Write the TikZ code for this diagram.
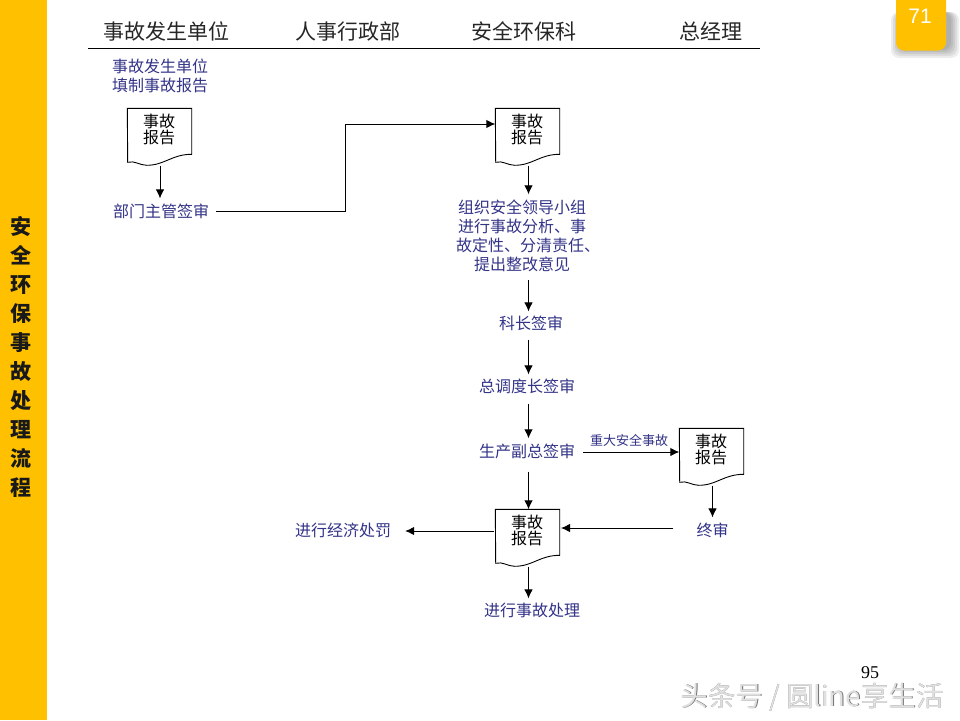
\documentclass[tikz,border=0pt]{standalone}
\usepackage{fontspec}
\setmainfont{Noto Sans CJK SC}
\newfontfamily\latinserif{Liberation Serif}
\newfontfamily\latinsans{Liberation Sans}
\usetikzlibrary{arrows.meta}
\definecolor{flowblue}{HTML}{333388}
\definecolor{tabyellow}{HTML}{FFC000}
\tikzset{
  headtxt/.style={font=\fontsize{21}{24}\selectfont, text=black!85, inner sep=0pt},
  flowtxt/.style={font=\fontsize{16}{19}\selectfont, text=flowblue, align=center, inner xsep=7pt, inner ysep=5pt},
  doctxt/.style={font=\fontsize{16}{16}\selectfont, text=black, align=center, inner sep=0pt, anchor=north},
  docbox/.style={minimum width=64pt, minimum height=57pt, inner sep=0pt, anchor=north west},
  docline/.style={draw=black, line width=0.9pt, line join=miter},
  conn/.style={draw=black, line width=0.9pt, -{Latex[length=9pt,width=8.5pt]}},
}
\newcommand{\docshape}[3]{%
  \node[docbox] (#1) at (#2,#3) {};
  \draw[docline] (#1.north west) -- (#1.north east) -- ++(0,46)
    .. controls +(-20,0) and +(18,0) .. ++(-45,11)
    .. controls +(-7,0) and +(7,-2) .. ++(-19,-3) -- cycle;
  \node[doctxt] at ([xshift=-0.5pt,yshift=-6pt]#1.north) {事故\\报告};
}
\begin{document}
\begin{tikzpicture}[x=1pt,y=-1pt]
\useasboundingbox (0,0) rectangle (960,720);
\fill[white] (0,0) rectangle (960,720);
% sidebar
\fill[tabyellow] (0,0) rectangle (47,720);
\node[font=\fontsize{21}{29.1}\selectfont\bfseries, align=center, inner sep=0pt, text=black!90] (side) at (20.5,357)
  {安\\全\\环\\保\\事\\故\\处\\理\\流\\程};
% page tab
\foreach \o/\w in {0.07/9,0.07/7,0.07/5,0.07/3,0.07/1}{
  \fill[black,opacity=\o,rounded corners=8pt] (900-\w,12) rectangle (950+\w,49+\w);
}
\fill[tabyellow,rounded corners=8pt] (896,-12) rectangle (946,50.5);
\node[font=\latinsans\fontsize{21}{24}\selectfont, text=white, inner sep=0pt] (tab) at (920,16.5) {71};
% header
\node[headtxt] (h1) at (166.5,31) {事故发生单位};
\node[headtxt] (h2) at (347.5,31.5) {人事行政部};
\node[headtxt] (h3) at (524,31) {安全环保科};
\node[headtxt] (h4) at (711,31) {总经理};
\coordinate (hl) at (88,48);
\coordinate (hr) at (760,48);
\draw[line width=1pt] (hl) -- (hr);
% documents
\docshape{d1}{127.3}{108.3}
\docshape{d2}{495.3}{108.3}
\docshape{d3}{679.3}{428.3}
\docshape{d4}{495.3}{509.3}
% texts
\node[flowtxt] (t0) at (160,76) {事故发生单位\\填制事故报告};
\node[flowtxt] (a) at (161,211) {部门主管签审};
\node[flowtxt] (org) at (522,235.5) {组织安全领导小组\\进行事故分析、事\\\hspace*{12pt}故定性、分清责任、\\提出整改意见};
\node[flowtxt] (ke) at (531,323) {科长签审};
\node[flowtxt] (zd) at (527,386) {总调度长签审};
\node[flowtxt] (sc) at (527,451) {生产副总签审};
\node[flowtxt] (zs) at (712.5,530) {终审};
\node[flowtxt] (jj) at (343,530) {进行经济处罚};
\node[flowtxt] (sg) at (532,610) {进行事故处理};
\node[font=\fontsize{13}{15}\selectfont, text=flowblue, inner sep=0pt] (zd2) at (629,441) {重大安全事故};
% connectors
\coordinate (j1) at (345,124);
\coordinate (d2in) at (495.3,124);
\coordinate (c1) at (528.5,280);
\coordinate (d3in) at (679.3,452);
\coordinate (d4a) at (561,528);
\coordinate (d4b) at (494,531);
\path[conn] ([xshift=0.5pt]d1.south) -- ([xshift=0.5pt]d1.south |- a.north);
\path[conn,-] (a.east) -| (j1);
\path[conn] (j1) -- (d2in);
\path[conn] (d2.south -| c1) -- (c1 |- org.north);
\path[conn] (c1) -- ([yshift=-1pt]c1 |- ke.north);
\path[conn] ([yshift=-4pt]c1 |- ke.south) -- ([yshift=-1pt]c1 |- zd.north);
\path[conn] ([yshift=-5pt]c1 |- zd.south) -- (c1 |- sc.north);
\path[conn] ([yshift=-8pt]c1 |- sc.south) -- (d4.north -| c1);
\path[conn] ([xshift=1pt]sc.east |- d3in) -- (d3in);
\path[conn] (d3.south -| zs) -- (zs.north);
\path[conn] ([xshift=-16pt]zs.west |- d4a) -- (d4a);
\path[conn] (d4b) -- ([xshift=7pt]jj.east |- d4b);
\path[conn] (d4.south -| c1) -- ([yshift=-1pt]c1 |- sg.north);
% page number and watermark
\node[font=\latinserif\fontsize{18}{20}\selectfont, text=black, inner sep=0pt] (pn) at (870,673) {95};
\node[font=\fontsize{27.5}{30}\selectfont, text=black!55, inner sep=0pt] at (812.5,697.5) {头条号 / 圆line享生活};
\node[font=\fontsize{27.5}{30}\selectfont, text=black!12, inner sep=0pt] (wm) at (812,697) {头条号 / 圆line享生活};
\end{tikzpicture}
\end{document}
